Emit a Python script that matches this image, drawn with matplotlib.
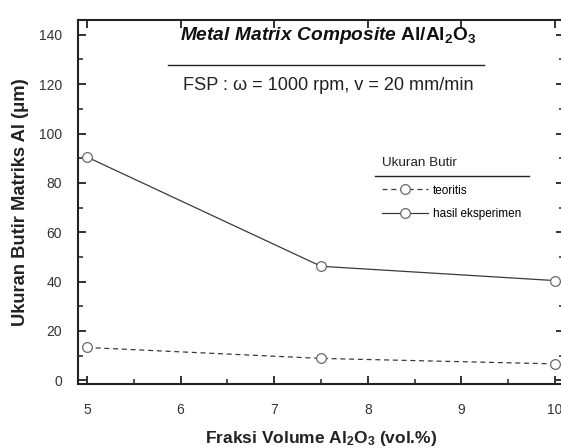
import matplotlib
matplotlib.use("Agg")
import matplotlib.pyplot as plt
from matplotlib.ticker import MultipleLocator

plt.rcParams['font.family'] = ['Liberation Sans', 'DejaVu Sans']
plt.rcParams['mathtext.fontset'] = 'custom'
plt.rcParams['mathtext.rm'] = 'Liberation Sans:bold'
plt.rcParams['mathtext.bf'] = 'Liberation Sans:bold'
plt.rcParams['mathtext.it'] = 'Liberation Sans:bold:italic'

# ---- data ----
fraksi = [5, 7.5, 10]
teoritis = [13.3, 8.87, 6.65]
eksperimen = [90.5, 46.2, 40.4]
xticks = [5, 6, 7, 8, 9, 10]
yticks = [0, 20, 40, 60, 80, 100, 120, 140]

W, H = 561, 448
fig = plt.figure(figsize=(W / 100, H / 100), dpi=100)
ax = fig.add_axes([77.5 / W, (H - 384) / H, 487 / W, 364 / H])

lc = '#3a3a3a'
mc = '#6a6a6a'
l1, = ax.plot(fraksi, teoritis, ls=(0, (4, 3)), color=lc, lw=0.9, marker='o',
              ms=7, mfc='white', mec=mc, mew=0.9, label='teoritis')
l2, = ax.plot(fraksi, eksperimen, ls='-', color=lc, lw=0.9, marker='o',
              ms=7, mfc='white', mec=mc, mew=0.9, label='hasil eksperimen')

ax.set_xlim(4.9, 10.1)
ax.set_ylim(-1.5, 146)
ax.set_xticks(xticks)
ax.set_yticks(yticks)
ax.xaxis.set_minor_locator(MultipleLocator(0.5))
ax.yaxis.set_minor_locator(MultipleLocator(10))
ax.tick_params(which='both', direction='in', top=True, right=True,
               colors='#222222', labelcolor='#333333', labelsize=10)
ax.tick_params(which='major', length=6, width=1.3)
ax.tick_params(which='minor', length=3.5, width=1.1, top=False)
ax.tick_params(axis='x', which='major', pad=14)
ax.tick_params(axis='y', which='major', pad=11)
for s in ax.spines.values():
    s.set_linewidth(1.5)
    s.set_color('#222222')

ax.set_xlabel(r'Fraksi Volume Al$_{\mathbf{2}}$O$_{\mathbf{3}}$ (vol.%)',
              fontsize=12.5, fontweight='bold', color='#222222', labelpad=8)
ax.set_ylabel('Ukuran Butir Matriks Al (μm)', fontsize=13.2, fontweight='bold',
              color='#222222', labelpad=7)

ax.text(0.514, 0.957, r'$\mathit{Metal\ Matrix\ Composite}$ Al/Al$_{\mathbf{2}}$O$_{\mathbf{3}}$',
        transform=ax.transAxes, ha='center', va='center', fontsize=13.8,
        fontweight='bold', color='#111111')
ax.plot([0.186, 0.835], [0.877, 0.877], transform=ax.transAxes, color='#222222', lw=1.0)
ax.text(0.514, 0.821, 'FSP : ω = 1000 rpm, v = 20 mm/min', transform=ax.transAxes,
        ha='center', va='center', fontsize=13.1, color='#222222')

ax.text(0.625, 0.607, 'Ukuran Butir', transform=ax.transAxes, ha='left',
        va='center', fontsize=9.7, color='#222222')
ax.plot([0.611, 0.927], [0.572, 0.572], transform=ax.transAxes, color='#222222', lw=1.0)
leg = ax.legend(handles=[l1, l2], loc='upper left',
                bbox_to_anchor=(0.625, 0.548), frameon=False, fontsize=8.5,
                handlelength=3.9, handletextpad=0.45, labelspacing=0.95,
                borderaxespad=0, borderpad=0)

fig.savefig('out.png', dpi=100)
